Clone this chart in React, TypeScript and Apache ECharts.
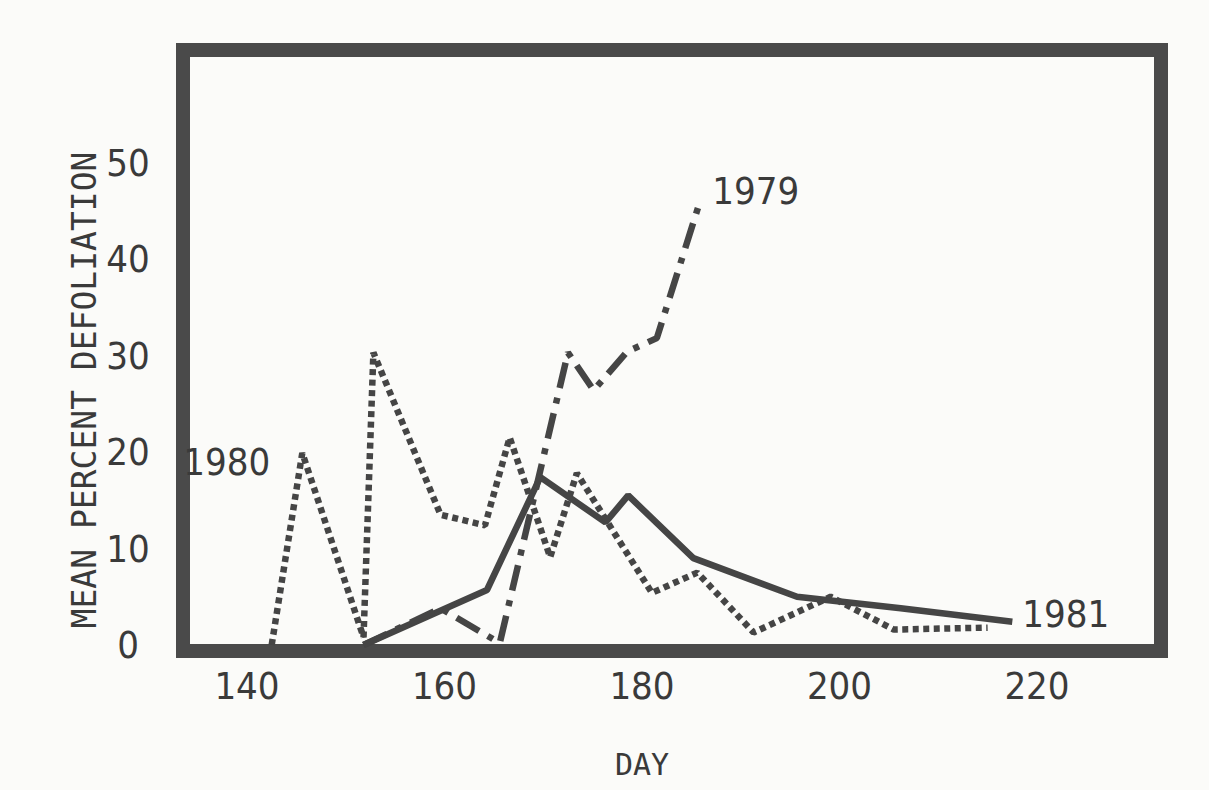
import React, { useEffect, useRef } from "react";
import * as echarts from "echarts";

// Day of year and mean percent defoliation
const days1979 = [151.8, 159.6, 165.6, 172.5, 175.1, 178.5, 181.5, 185.7];
const values1979 = [0, 3.8, 0.2, 30.3, 26.4, 30.4, 31.8, 45.4];

const days1980 = [142.5, 145.6, 151.8, 152.8, 159.6, 164.1, 166.6, 170.7, 173.4, 181.0, 185.6, 191.3, 199.1, 205.5, 215.0];
const values1980 = [0, 19.9, 0.8, 30.3, 13.5, 12.4, 21.5, 9.1, 17.8, 5.4, 7.5, 1.3, 5.0, 1.6, 1.8];

const days1981 = [151.8, 164.3, 169.7, 176.3, 178.6, 185.2, 195.7, 206.2, 217.5];
const values1981 = [0, 5.7, 17.4, 12.7, 15.5, 9.0, 5.0, 3.8, 2.4];

const xTicks = [140, 160, 180, 200, 220];
const yTicks = [0, 10, 20, 30, 40, 50];

const INK = "#454545";
const TEXT = "#3a3a3a";
const NARROW = "'Liberation Sans Narrow', 'DejaVu Sans Condensed', 'Roboto', sans-serif";
const MONO = "'DejaVu Sans Mono', 'Liberation Mono', monospace";

const pairs = (xs: number[], ys: number[]) => xs.map((x, i) => [x, ys[i]]);

export default function App() {
  const ref = useRef<HTMLDivElement>(null);
  useEffect(() => {
    const chart = echarts.init(ref.current!, null, { renderer: "svg" });
    const data1980: any[] = pairs(days1980, values1980);
    data1980[1] = {
      value: data1980[1],
      label: {
        show: true,
        formatter: "1980",
        position: "left",
        distance: 32,
        offset: [0, 9],
        fontFamily: NARROW,
        fontSize: 38,
        color: TEXT,
      },
    };
    chart.setOption({
      animation: false,
      backgroundColor: "#fbfbf9",
      grid: { left: 247, right: 172, top: 66, bottom: 145, show: false },
      xAxis: {
        type: "value",
        min: 140,
        max: 220,
        interval: 20,
        axisLine: { show: false },
        axisTick: { show: false },
        splitLine: { show: false },
        axisLabel: {
          margin: 22,
          fontFamily: NARROW,
          fontSize: 38,
          color: TEXT,
          formatter: (v: number) => (xTicks.includes(v) ? String(v) : ""),
        },
        name: "DAY",
        nameLocation: "middle",
        nameGap: 104,
        nameTextStyle: { fontFamily: MONO, fontSize: 30, color: TEXT },
      },
      yAxis: {
        type: "value",
        min: 0,
        max: 60,
        interval: 10,
        axisLine: { show: false },
        axisTick: { show: false },
        splitLine: { show: false },
        axisLabel: {
          margin: 119,
          align: "center",
          fontFamily: NARROW,
          fontSize: 38,
          color: TEXT,
          formatter: (v: number) => (yTicks.includes(v) ? String(v) : ""),
        },
      },
      graphic: [
        {
          type: "rect",
          shape: { x: 183, y: 50, width: 978, height: 601 },
          style: { fill: "none", stroke: "#4a4a4a", lineWidth: 14 },
          z: -1,
        },
        {
          type: "text",
          x: 84,
          y: 390,
          rotation: Math.PI / 2,
          style: {
            text: "MEAN PERCENT DEFOLIATION",
            fontFamily: MONO,
            fontSize: 33,
            fill: TEXT,
            align: "center",
            verticalAlign: "middle",
          },
        },
      ],
      series: [
        {
          name: "1981",
          type: "line",
          data: pairs(days1981, values1981),
          showSymbol: false,
          clip: false,
          lineStyle: { color: INK, width: 6.5, type: "solid" },
          endLabel: {
            show: true,
            formatter: "1981",
            offset: [2, -8],
            fontFamily: NARROW,
            fontSize: 38,
            color: TEXT,
          },
        },
        {
          name: "1980",
          type: "line",
          data: data1980,
          symbol: "circle",
          symbolSize: 0,
          showSymbol: true,
          clip: false,
          lineStyle: { color: INK, width: 6.5, type: [6, 4.5] },
        },
        {
          name: "1979",
          type: "line",
          data: pairs(days1979, values1979),
          showSymbol: false,
          clip: false,
          lineStyle: { color: INK, width: 6.5, type: [26, 10, 6, 10] },
          endLabel: {
            show: true,
            formatter: "1979",
            offset: [6, -16],
            fontFamily: NARROW,
            fontSize: 38,
            color: TEXT,
          },
        },
      ],
    });
    return () => chart.dispose();
  }, []);
  return (
    <div
      ref={ref}
      style={{ position: "fixed", left: 0, top: 0, width: 1209, height: 790 }}
    />
  );
}
